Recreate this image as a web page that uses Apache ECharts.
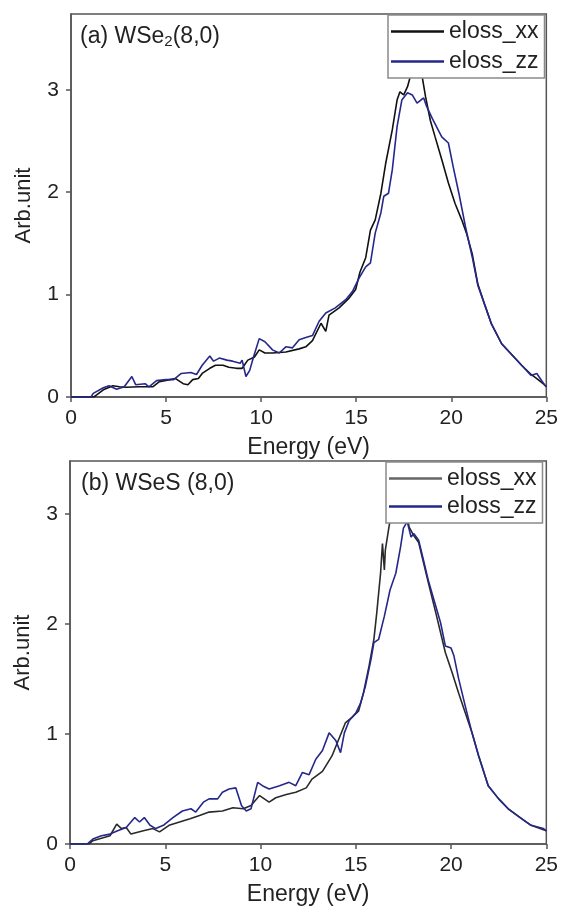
<!DOCTYPE html>
<html>
<head>
<meta charset="utf-8">
<script src="https://cdn.jsdelivr.net/npm/echarts@6/dist/echarts.min.js"></script>
<style>html,body{margin:0;padding:0;background:#fff;}#c{width:561px;height:907px;}</style>
</head>
<body>
<div id="c"></div>
<script>
// ---- data (a) WSe2(8,0) ----
const aXxE = [0,1.2,1.35,1.7,2.2,2.55,2.9,3.6,4.3,4.65,5.2,5.5,5.9,6.15,6.4,6.7,6.9,7.3,7.6,8.0,8.3,8.7,9.0,9.3,9.65,9.9,10.2,10.6,11.3,12.0,12.35,12.7,13.15,13.4,13.57,14.1,14.6,14.97,15.2,15.5,15.75,16.0,16.3,16.55,16.9,17.15,17.3,17.5,17.7,17.95,18.2,18.45,18.65,18.9,19.15,19.5,19.85,20.2,20.55,20.8,21.1,21.4,21.8,22.1,22.65,23.2,23.7,24.2,24.5,24.9,25];
const aXxV = [0,0,0.02,0.07,0.11,0.10,0.095,0.10,0.10,0.15,0.17,0.18,0.13,0.12,0.17,0.18,0.23,0.28,0.31,0.31,0.29,0.28,0.28,0.36,0.39,0.46,0.43,0.43,0.44,0.47,0.49,0.55,0.72,0.64,0.80,0.87,0.96,1.05,1.22,1.36,1.63,1.73,1.99,2.28,2.61,2.90,2.98,2.95,3.03,3.20,3.35,3.15,2.93,2.70,2.54,2.32,2.09,1.89,1.73,1.60,1.40,1.10,0.88,0.72,0.52,0.41,0.31,0.22,0.18,0.12,0.10];
const aZzE = [0,1.05,1.17,1.7,2.0,2.4,2.8,3.2,3.4,3.9,4.1,4.5,5.0,5.4,5.8,6.3,6.6,6.9,7.3,7.5,7.8,8.2,8.5,8.9,9.0,9.2,9.4,9.6,9.9,10.2,10.3,10.6,10.95,11.3,11.65,12.0,12.35,12.7,13.05,13.4,13.9,14.45,14.8,15.15,15.5,15.75,16.0,16.3,16.45,16.7,16.9,17.15,17.4,17.7,17.95,18.2,18.4,18.55,18.7,19.0,19.25,19.5,19.85,20.1,20.4,20.75,21.1,21.4,21.8,22.1,22.65,23.2,23.7,24.2,24.5,24.9,25];
const aZzV = [0,0,0.035,0.09,0.11,0.075,0.10,0.20,0.12,0.13,0.10,0.16,0.17,0.17,0.23,0.24,0.22,0.31,0.40,0.35,0.38,0.36,0.35,0.33,0.36,0.20,0.26,0.39,0.57,0.54,0.55,0.46,0.43,0.49,0.48,0.56,0.58,0.60,0.74,0.82,0.87,0.95,1.03,1.16,1.27,1.31,1.60,1.80,1.96,1.99,2.22,2.64,2.90,2.97,2.95,2.87,2.90,2.92,2.84,2.72,2.63,2.54,2.48,2.25,1.99,1.66,1.37,1.09,0.88,0.72,0.52,0.41,0.31,0.21,0.23,0.12,0.10];
// ---- data (b) WSeS (8,0) ----
const bXxE = [0,1.0,1.2,2.1,2.45,2.7,2.95,3.2,3.85,4.35,4.7,5.2,5.75,6.3,6.8,7.3,8.0,8.55,9.1,9.5,9.95,10.45,10.8,11.35,11.85,12.4,12.7,13.25,13.75,14.1,14.45,14.8,15.15,15.4,15.7,15.95,16.1,16.3,16.4,16.5,16.55,16.75,17.0,17.3,17.6,17.8,18.05,18.3,18.55,18.8,19.2,19.7,20.05,20.4,20.75,21.1,21.45,21.95,22.5,23.0,23.7,24.2,24.85,25];
const bXxV = [0,0,0.03,0.075,0.18,0.14,0.15,0.09,0.12,0.14,0.11,0.17,0.20,0.23,0.26,0.29,0.30,0.33,0.32,0.35,0.44,0.38,0.42,0.45,0.47,0.51,0.59,0.66,0.80,0.95,1.10,1.15,1.21,1.37,1.62,1.86,2.10,2.46,2.73,2.49,2.67,2.89,3.10,3.20,3.05,2.88,2.80,2.74,2.56,2.38,2.10,1.74,1.56,1.37,1.19,1.01,0.80,0.53,0.41,0.32,0.23,0.17,0.13,0.12];
const bZzE = [0,0.9,1.2,1.65,2.1,2.5,2.95,3.4,3.65,3.9,4.2,4.5,4.9,5.4,5.9,6.35,6.6,7.0,7.3,7.75,8.0,8.35,8.7,9.0,9.25,9.5,9.85,10.1,10.45,11.0,11.5,11.85,12.2,12.55,12.9,13.25,13.6,13.95,14.2,14.4,14.65,15.0,15.25,15.5,15.8,15.95,16.2,16.5,16.8,17.1,17.35,17.5,17.7,17.9,18.05,18.3,18.55,18.8,19.1,19.45,19.7,20.0,20.15,20.4,20.75,21.1,21.45,21.95,22.5,23.0,23.7,24.2,24.85,25];
const bZzV = [0,0,0.045,0.075,0.09,0.12,0.15,0.24,0.20,0.24,0.17,0.14,0.17,0.24,0.30,0.32,0.29,0.38,0.41,0.41,0.47,0.50,0.51,0.35,0.30,0.32,0.56,0.53,0.50,0.53,0.56,0.53,0.65,0.63,0.77,0.85,1.01,0.94,0.83,1.01,1.12,1.19,1.28,1.43,1.68,1.83,1.86,2.07,2.31,2.46,2.70,2.87,2.93,2.79,2.82,2.76,2.58,2.40,2.22,2.01,1.80,1.78,1.71,1.50,1.25,1.01,0.80,0.53,0.41,0.32,0.23,0.17,0.14,0.12];
const xTicks = [0,5,10,15,20,25];
const yTicks = [0,1,2,3];
const panelA = ['(a) WSe','2','(8,0)'];
const panelB = '(b) WSeS (8,0)';
const seriesNames = ['eloss_xx','eloss_zz'];

const zip = (e, v) => e.map((x, i) => [x, v[i]]);
const FF = 'Liberation Sans, Arial, sans-serif';
const TXT = '#222';
const AX = '#555';

function xAxis(gi) {
  return {
    type: 'value', gridIndex: gi, min: 0, max: 25, interval: 5,
    name: 'Energy (eV)', nameLocation: 'middle', nameGap: 39,
    nameTextStyle: {fontFamily: FF, fontSize: 23, color: TXT},
    axisLine: {show: true, onZero: false, lineStyle: {color: AX, width: 1.5}},
    axisTick: {show: true, inside: false, length: 5, lineStyle: {color: AX, width: 1.5}},
    axisLabel: {fontFamily: FF, fontSize: 21, color: TXT, margin: 11},
    splitLine: {show: false}
  };
}
function yAxis(gi, max) {
  return {
    type: 'value', gridIndex: gi, min: 0, max: max, interval: 1,
    name: 'Arb.unit', nameLocation: 'middle', nameGap: 36,
    nameTextStyle: {fontFamily: FF, fontSize: 22, color: TXT},
    axisLine: {show: true, lineStyle: {color: AX, width: 1.5}},
    axisTick: {show: true, inside: false, length: 5, lineStyle: {color: AX, width: 1.5}},
    axisLabel: {fontFamily: FF, fontSize: 21, color: TXT, margin: 12, showMaxLabel: false,
      formatter: v => (yTicks.indexOf(v) >= 0 ? String(v) : '')},
    splitLine: {show: false}
  };
}
function line(name, gi, data, color) {
  return {
    type: 'line', name: name, xAxisIndex: gi, yAxisIndex: gi, data: data,
    symbol: 'none', showSymbol: false, smooth: false, animation: false,
    lineStyle: {color: color, width: 1.6}, itemStyle: {color: color}
  };
}
function legend(gi, left, top, gap, xxColor, zzColor) {
  return {
    show: true, orient: 'vertical', left: left, top: top,
    padding: [5, 6, 5, 3], itemGap: gap, itemWidth: 53, itemHeight: 2.5,
    icon: 'rect',
    backgroundColor: '#fff', borderColor: '#8a8a8a', borderWidth: 1.5, borderRadius: 0,
    textStyle: {fontFamily: FF, fontSize: 23, color: TXT},
    selectedMode: false,
    data: [
      {name: seriesNames[0], icon: 'rect', itemStyle: {color: xxColor, borderWidth: 0}},
      {name: seriesNames[1], icon: 'rect', itemStyle: {color: zzColor, borderWidth: 0}}
    ]
  };
}

const BLUE = '#25288a';
const chart = echarts.init(document.getElementById('c'), null, {renderer: 'canvas'});
chart.setOption({
  animation: false,
  backgroundColor: '#fff',
  title: [
    {left: 75, top: 19, text: '{t|' + panelA[0] + '}{s|' + panelA[1] + '}{t|' + panelA[2] + '}',
     textStyle: {fontWeight: 'normal', rich: {
       t: {fontFamily: FF, fontSize: 23, fontWeight: 'normal', color: TXT},
       s: {fontFamily: FF, fontSize: 15, fontWeight: 'normal', color: TXT, padding: [10, 0, 0, 0]}}}},
    {left: 76, top: 467, text: panelB, textStyle: {fontFamily: FF, fontSize: 23, fontWeight: 'normal', color: TXT}}
  ],
  grid: [
    {left: 71, right: 13, top: 14, height: 383, show: true, borderColor: AX, borderWidth: 1.5, backgroundColor: 'transparent'},
    {left: 70, right: 13, top: 461, height: 384, show: true, borderColor: AX, borderWidth: 1.5, backgroundColor: 'transparent'}
  ],
  xAxis: [xAxis(0), xAxis(1)],
  yAxis: [yAxis(0, 3.74), yAxis(1, 3.48)],
  legend: [
    legend(0, 388, 15, 7, '#111', BLUE),
    legend(1, 386, 462, 5, '#666', BLUE)
  ],
  series: [
    line(seriesNames[0], 0, zip(aXxE, aXxV), '#111'),
    line(seriesNames[1], 0, zip(aZzE, aZzV), BLUE),
    line(seriesNames[0], 1, zip(bXxE, bXxV), '#2a2a2a'),
    line(seriesNames[1], 1, zip(bZzE, bZzV), BLUE)
  ]
});
</script>
</body>
</html>
